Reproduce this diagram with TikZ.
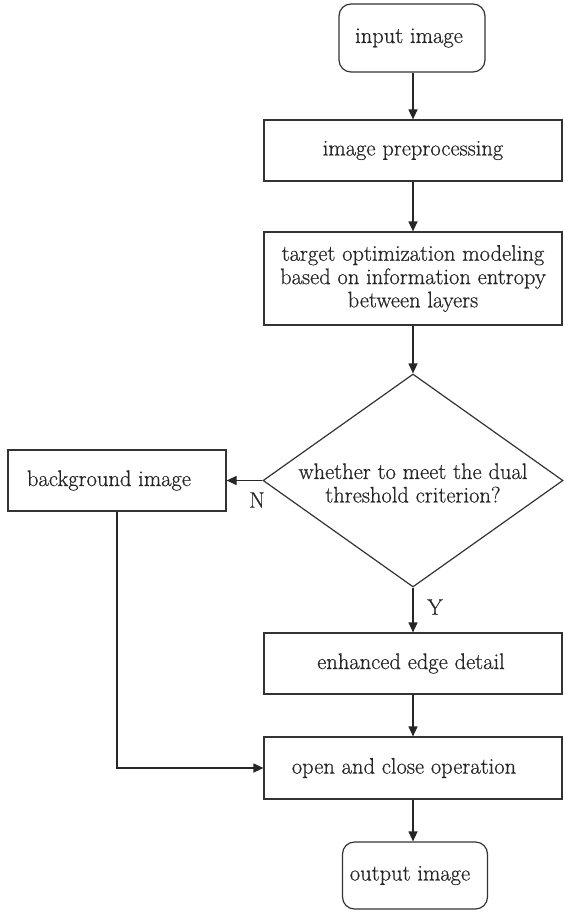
\documentclass[tikz,border=0pt]{standalone}
\usepackage{fontspec}
\setmainfont{Latin Modern Roman}[FakeBold=0.6]
\usetikzlibrary{shapes.geometric,arrows.meta}
\begin{document}
\begin{tikzpicture}[x=1pt,y=-1pt,
  every node/.style={font=\fontsize{22.5}{23.5}\selectfont, text=black!85},
  box/.style={draw=black!80, line width=1.2pt, rectangle, inner sep=0pt, align=center},
  rbox/.style={box, rounded corners=12pt},
  dia/.style={draw=black!80, line width=1.2pt, diamond, inner sep=0pt, align=center, minimum width=300pt, minimum height=213pt},
  flow/.style={draw=black!85, line width=1.2pt, -{Triangle[length=10pt,width=9pt]}},
  lbl/.style={inner sep=0pt}
]
\useasboundingbox (0,0) rectangle (563,912);
\node[rbox, minimum width=146pt, minimum height=68pt] (in) at (412,38) {input image\hspace*{6pt}};
\node[box, minimum width=298pt, minimum height=61pt] (pre) at (413,150.5) {image preprocessing};
\node[box, minimum width=298pt, minimum height=93pt] (tgt) at (413,278.5) {\raisebox{-3pt}{\shortstack{target optimization modeling\\based on information entropy\\between layers}}};
\node[dia] (dec) at (413,480.5) {};
\node[lbl, align=center] (dect) at (413,483) {whether to meet the dual\\threshold criterion?};
\node[box, minimum width=218pt, minimum height=61pt] (bg) at (117,480.5) {background image\hspace*{16pt}};
\node[box, minimum width=298pt, minimum height=61pt] (edge) at (413,663.5) {enhanced edge detail\hspace*{4pt}};
\node[box, minimum width=298pt, minimum height=62pt] (open) at (413,768) {open and close operation\hspace*{18pt}};
\node[rbox, minimum width=145pt, minimum height=67pt] (out) at (415,875.5) {output image\hspace*{10pt}};
\node[lbl] (N) at (257,500) {N};
\node[lbl] (Y) at (435,607) {Y};
\coordinate (corner) at (bg.south |- open.west);
\draw[flow] (in.south -| pre.north) -- (pre.north);
\draw[flow] (pre) -- (tgt);
\draw[flow] (tgt) -- (dec.north);
\draw[flow] (dec.west) -- (bg.east);
\draw[flow] (dec.south) -- (edge.north);
\draw[flow] (edge) -- (open);
\draw[flow] (bg.south) -- (corner) -- (open.west);
\draw[flow] (open.south) -- (open.south |- out.north);
\end{tikzpicture}
\end{document}
